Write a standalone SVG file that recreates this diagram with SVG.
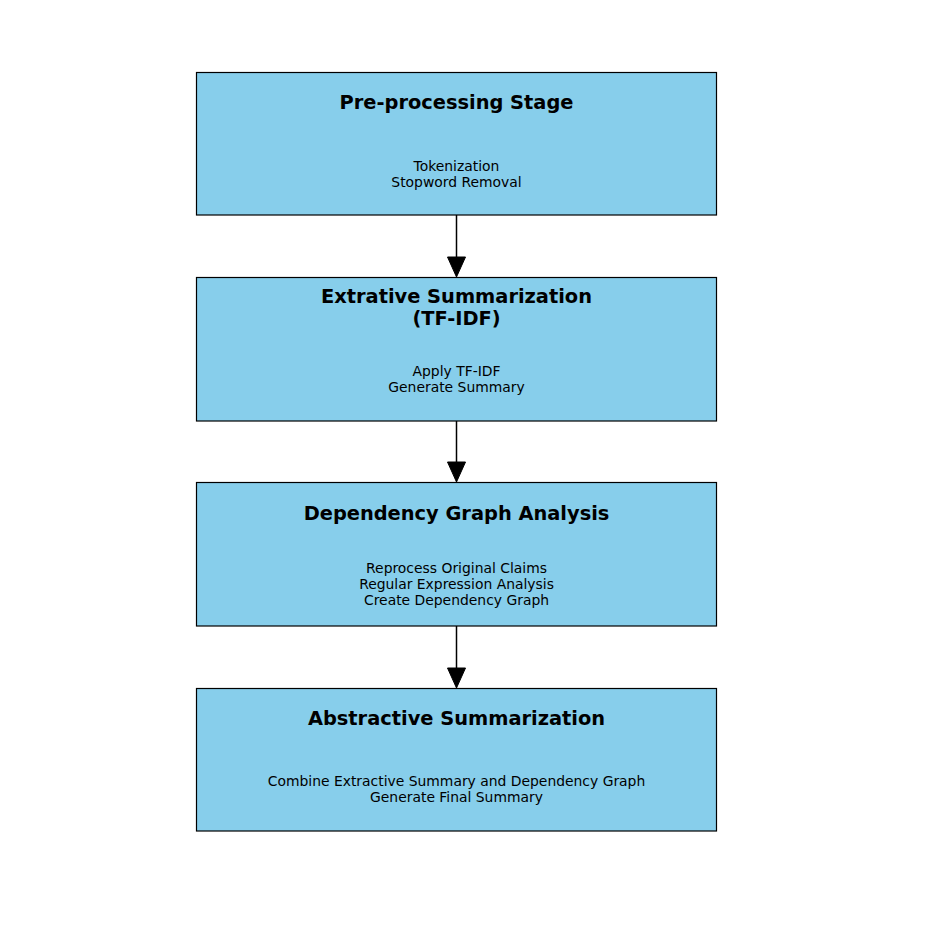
<svg xmlns="http://www.w3.org/2000/svg" width="950" height="944" viewBox="0 0 950 944">
<style>
.box{fill:#87ceeb;stroke:#000;stroke-width:1.2}
.t{font-family:"DejaVu Sans",sans-serif;font-weight:bold;font-size:19.4px;text-anchor:middle;fill:#000}
.b{font-family:"DejaVu Sans",sans-serif;font-size:13.9px;text-anchor:middle;fill:#000}
.c{stroke:#000;stroke-width:1.5;fill:none}
.h{fill:#000;stroke:#000;stroke-width:1}
</style>
<rect width="950" height="944" fill="#fff"/>
<g id="connectors">
<line class="c" x1="456.5" y1="215" x2="456.5" y2="258"/>
<polygon class="h" points="447.5,257 465.5,257 456.5,277"/>
<line class="c" x1="456.5" y1="421" x2="456.5" y2="463"/>
<polygon class="h" points="447.5,462 465.5,462 456.5,482"/>
<line class="c" x1="456.5" y1="626" x2="456.5" y2="669"/>
<polygon class="h" points="447.5,668 465.5,668 456.5,688"/>
</g>
<g id="node1">
<rect class="box" x="196.5" y="72.5" width="520" height="142.5"/>
<text class="t" x="456.5" y="108.5">Pre-processing Stage</text>
<text class="b" x="456.5" y="170.5">Tokenization</text>
<text class="b" x="456.5" y="186.5">Stopword Removal</text>
</g>
<g id="node2">
<rect class="box" x="196.5" y="277.5" width="520" height="143.5"/>
<text class="t" x="456.5" y="302.5">Extrative Summarization</text>
<text class="t" x="456.5" y="324.5">(TF-IDF)</text>
<text class="b" x="456.5" y="375.5">Apply TF-IDF</text>
<text class="b" x="456.5" y="391.5">Generate Summary</text>
</g>
<g id="node3">
<rect class="box" x="196.5" y="482.5" width="520" height="143.5"/>
<text class="t" x="456.5" y="519.5">Dependency Graph Analysis</text>
<text class="b" x="456.5" y="572.5">Reprocess Original Claims</text>
<text class="b" x="456.5" y="588.5">Regular Expression Analysis</text>
<text class="b" x="456.5" y="604.5">Create Dependency Graph</text>
</g>
<g id="node4">
<rect class="box" x="196.5" y="688.5" width="520" height="142.5"/>
<text class="t" x="456.5" y="724.5">Abstractive Summarization</text>
<text class="b" x="456.5" y="785.5">Combine Extractive Summary and Dependency Graph</text>
<text class="b" x="456.5" y="801.5">Generate Final Summary</text>
</g>
</svg>
